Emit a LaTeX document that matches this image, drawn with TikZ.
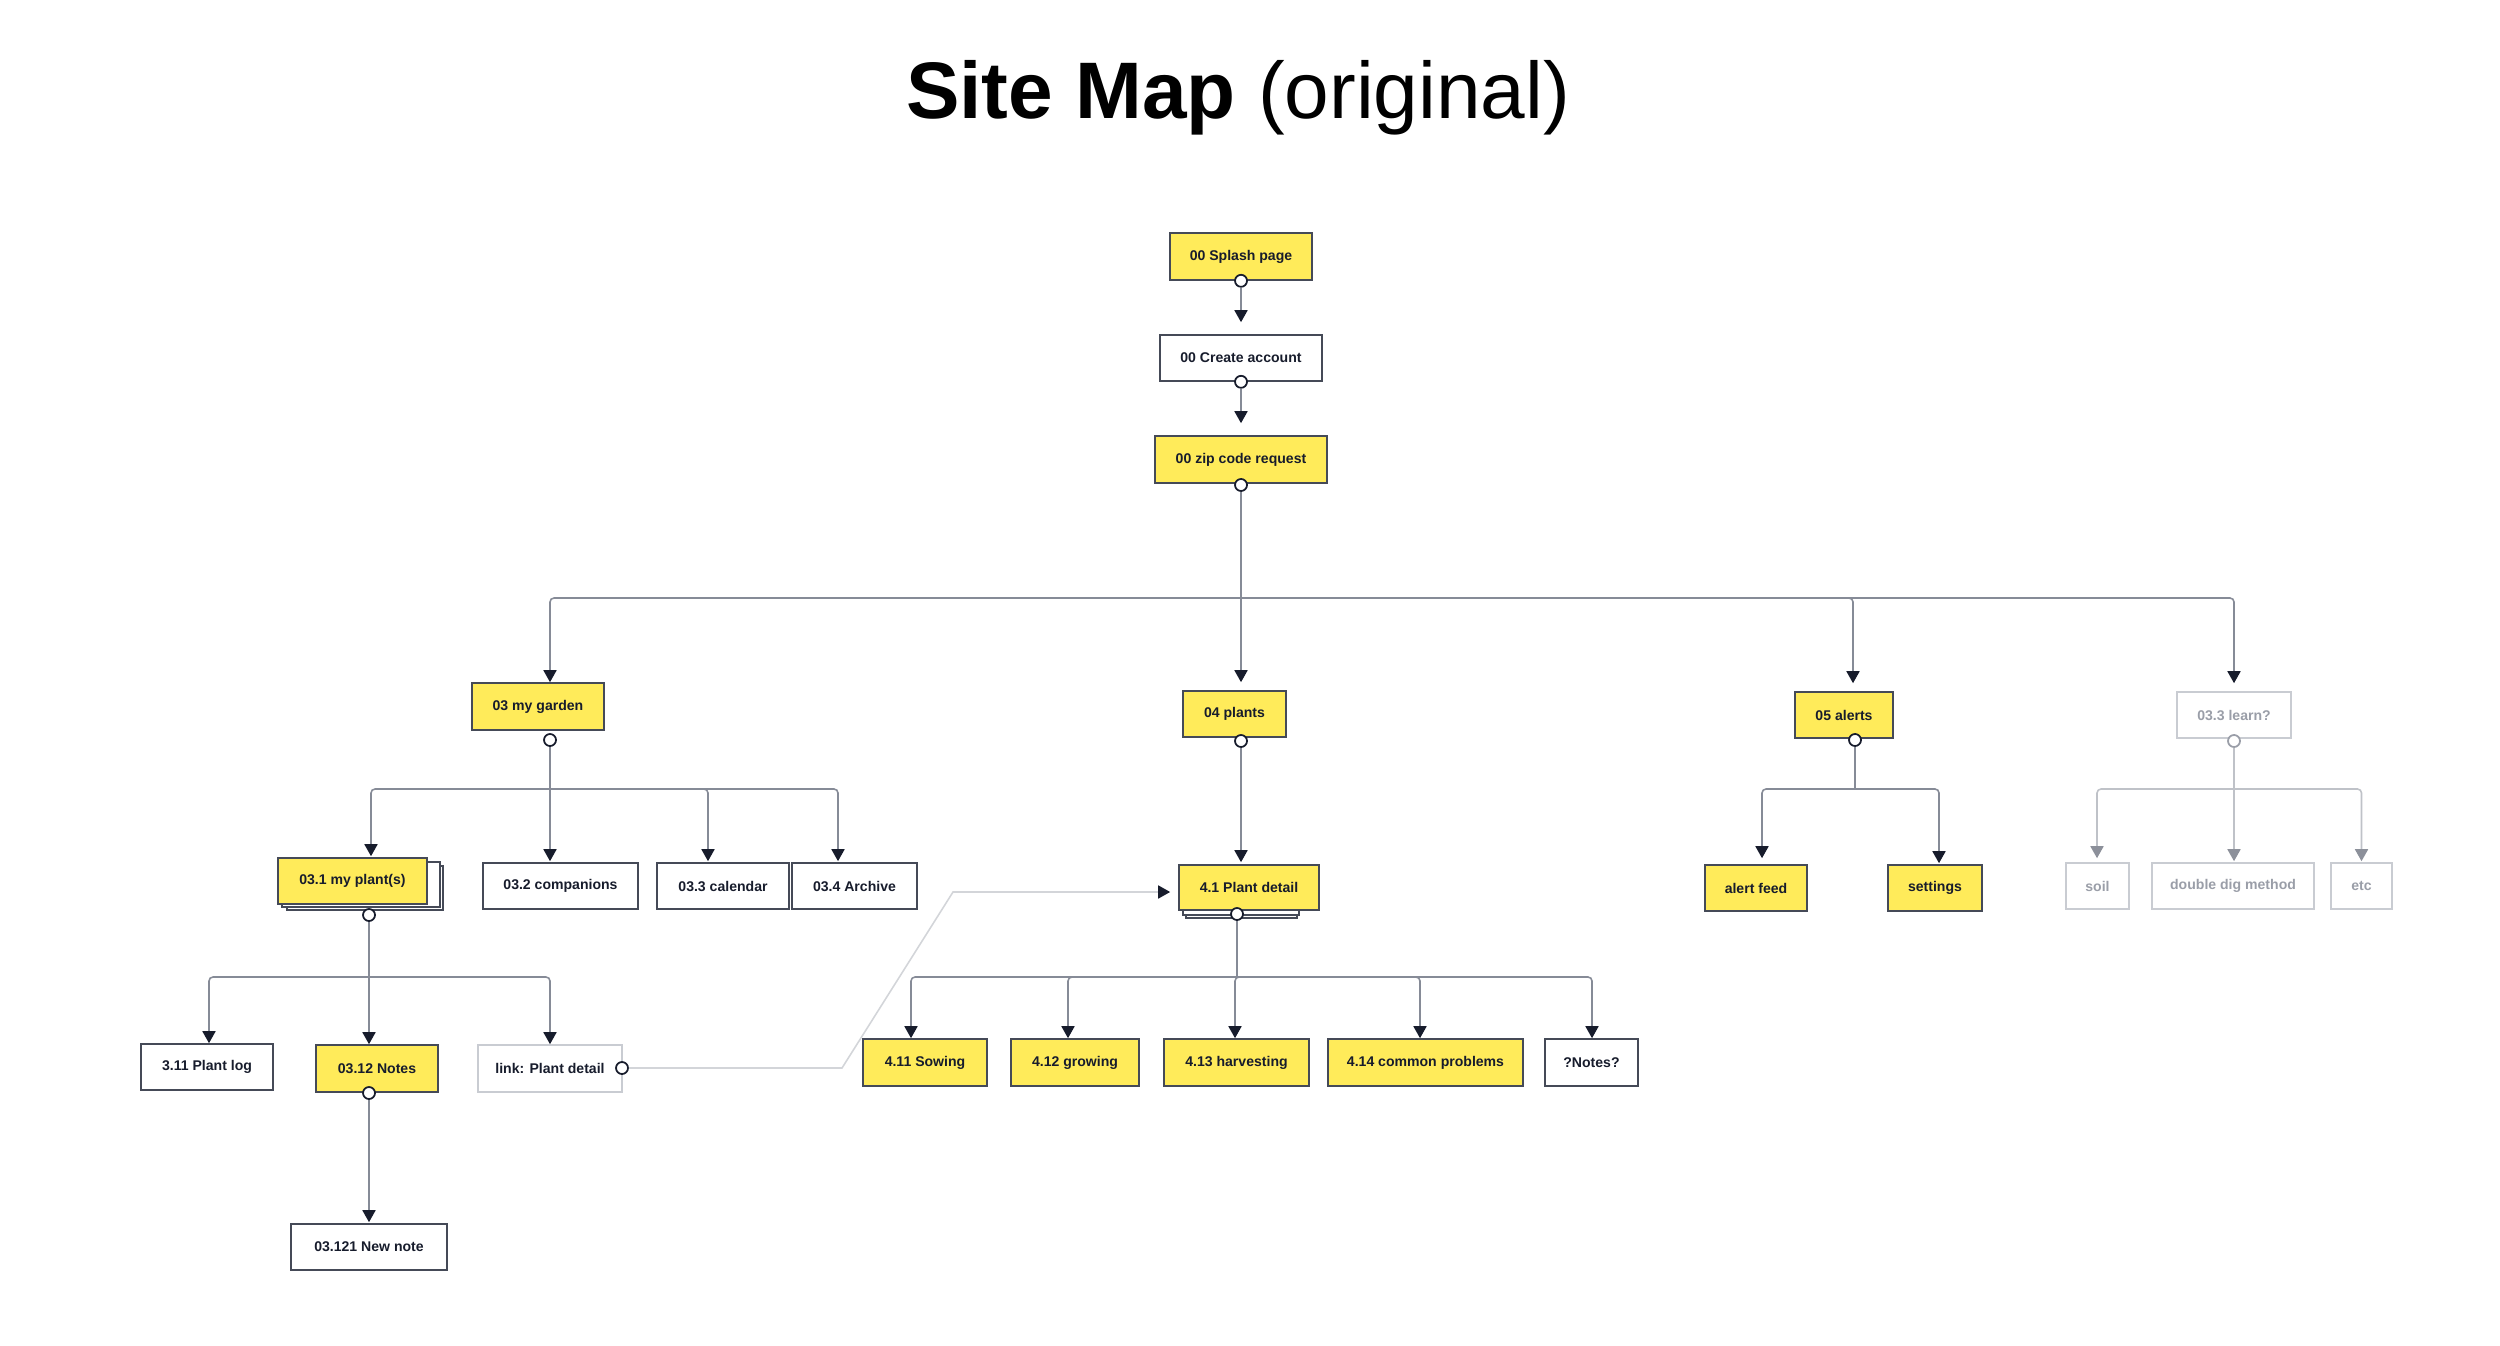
\documentclass[tikz,border=0pt]{standalone}
\usepackage{fontspec}
\setmainfont{Liberation Sans}
\usetikzlibrary{arrows.meta}

\definecolor{stickyyellow}{HTML}{FFEB5A}
\definecolor{inkdark}{HTML}{171C2C}
\definecolor{boxedge}{HTML}{454A57}
\definecolor{wiregray}{HTML}{868B97}
\definecolor{ghostedge}{HTML}{C9CCD2}
\definecolor{ghosttext}{HTML}{9A9EA8}
\definecolor{ghostline}{HTML}{BFC2C8}
\definecolor{ghosthead}{HTML}{8C909A}
\definecolor{linkline}{HTML}{D3D5D9}

\begin{document}
\begin{tikzpicture}[x=0.01cm, y=-0.01cm,
    every node/.style={font=\fontsize{4}{5}\selectfont\bfseries, text=inkdark},
    pagebox/.style={draw=boxedge, line width=0.45pt, inner sep=0pt},
    sticky/.style={pagebox, fill=stickyyellow},
    plain/.style={pagebox, fill=white},
    ghost/.style={draw=ghostedge, fill=white, text=ghosttext, line width=0.45pt, inner sep=0pt},
    stackpage/.style={draw=boxedge, fill=white, line width=0.45pt},
    port/.style={circle, draw=inkdark, fill=white, line width=0.5pt, minimum size=0.12cm, inner sep=0pt},
    ghostport/.style={port, draw=ghosttext},
    trunk/.style={draw=wiregray, line width=0.45pt},
    wire/.style={draw=wiregray, line width=0.45pt, rounded corners=0.04cm, -{Triangle[length=3.4pt, width=3.7pt, color=inkdark]}},
    ghostwire/.style={draw=ghostline, line width=0.45pt, rounded corners=0.04cm, -{Triangle[length=3.4pt, width=3.7pt, color=ghosthead]}},
    linkwire/.style={draw=linkline, line width=0.45pt, -{Triangle[length=3.4pt, width=3.7pt, color=inkdark]}}]
  \useasboundingbox (0,0) rectangle (2500,1346);

  % title
  \node[font=\fontsize{22.8}{27}\selectfont, text=black, anchor=base] (title) at (1238,119) {\textbf{Site Map} (original)};

  % entry chain
  \node[sticky, minimum width=1.42cm, minimum height=0.47cm] (splash) at (1241,256.5) {00 Splash page};
  \node[plain, minimum width=1.62cm, minimum height=0.46cm] (create) at (1241,358) {00 Create account};
  \node[sticky, minimum width=1.72cm, minimum height=0.47cm] (zip) at (1241,459.5) {00 zip code request};
  \node[port] (splashport) at (splash.south) {};
  \node[port] (createport) at (create.south) {};
  \node[port] (zipport) at (1241,485) {};

  % main sections
  \node[sticky, minimum width=1.32cm, minimum height=0.47cm] (garden) at (538,706.5) {03 my garden};
  \node[sticky, minimum width=1.03cm, minimum height=0.46cm] (plants) at (1234.5,714) {04 plants};
  \node[sticky, minimum width=0.98cm, minimum height=0.46cm] (alerts) at (1844,715) {05 alerts};
  \node[ghost, minimum width=1.14cm, minimum height=0.46cm] (learn) at (2234,715) {03.3 learn?};
  \node[port] (gardenport) at (550,740) {};
  \node[port] (plantsport) at (1241,741) {};
  \node[port] (alertsport) at (1855,740) {};
  \node[ghostport] (learnport) at (2234,741) {};

  % my garden
  \draw[stackpage] (287,866) rectangle (443,910);
  \draw[stackpage] (282,862) rectangle (440,907);
  \node[sticky, minimum width=1.49cm, minimum height=0.46cm] (myplants) at (352.5,881) {03.1 my plant(s)};
  \node[plain, minimum width=1.55cm, minimum height=0.46cm] (companions) at (560.5,886) {03.2 companions};
  \node[plain, minimum width=1.32cm, minimum height=0.46cm] (calendar) at (723,886) {03.3 calendar};
  \node[plain, minimum width=1.25cm, minimum height=0.46cm] (archive) at (854.5,886) {03.4 Archive};
  \node[port] (myplantsport) at (369,915) {};

  \node[plain, minimum width=1.32cm, minimum height=0.46cm] (plantlog) at (207,1067) {3.11 Plant log};
  \node[sticky, minimum width=1.22cm, minimum height=0.47cm] (notes) at (377,1068.5) {03.12 Notes};
  \node[pagebox, draw=ghostedge, fill=white, minimum width=1.44cm, minimum height=0.47cm] (linkdetail) at (550,1068.5) {link: Plant detail};
  \node[port] (notesport) at (369,1093) {};
  \node[port] (linkport) at (622,1068) {};
  \node[plain, minimum width=1.56cm, minimum height=0.46cm] (newnote) at (369,1247) {03.121 New note};

  % plants
  \draw[stackpage] (1186,880) rectangle (1297,918);
  \draw[stackpage] (1183,880) rectangle (1299,915);
  \node[sticky, minimum width=1.40cm, minimum height=0.45cm] (detail) at (1249,887.5) {4.1 Plant detail};
  \node[port] (detailport) at (1237,914) {};
  \node[sticky, minimum width=1.24cm, minimum height=0.47cm] (sowing) at (925,1062.5) {4.11 Sowing};
  \node[sticky, minimum width=1.28cm, minimum height=0.47cm] (growing) at (1075,1062.5) {4.12 growing};
  \node[sticky, minimum width=1.45cm, minimum height=0.47cm] (harvesting) at (1236.5,1062.5) {4.13 harvesting};
  \node[sticky, minimum width=1.95cm, minimum height=0.47cm] (problems) at (1425.5,1062.5) {4.14 common problems};
  \node[plain, minimum width=0.93cm, minimum height=0.47cm] (notesq) at (1591.5,1062.5) {?Notes?};

  % alerts
  \node[sticky, minimum width=1.02cm, minimum height=0.46cm] (alertfeed) at (1756,888) {alert feed};
  \node[sticky, minimum width=0.94cm, minimum height=0.46cm] (settings) at (1935,888) {settings};

  % learn
  \node[ghost, minimum width=0.63cm, minimum height=0.46cm] (soil) at (2097.5,886) {soil};
  \node[ghost, minimum width=1.62cm, minimum height=0.46cm] (doubledig) at (2233,886) {double dig method};
  \node[ghost, minimum width=0.61cm, minimum height=0.46cm] (etc) at (2361.5,886) {etc};

  % bus points
  \coordinate (topbus) at (1241,598);
  \coordinate (gardenbus) at (550,789);
  \coordinate (alertsbus) at (1855,789);
  \coordinate (learnbus) at (2234,789);
  \coordinate (myplantsbus) at (369,977);
  \coordinate (detailbus) at (1237,977);
  \coordinate (linkbend) at (842,1068);
  \coordinate (linkrise) at (953,892);

  % connectors
  \draw[wire] (splashport) -- ([shift={(0,-12)}]create.north);
  \draw[wire] (createport) -- ([shift={(0,-12)}]zip.north);

  \draw[trunk] (zipport) -- (topbus);
  \draw[wire] (topbus) -| ([shift={(12,0)}]garden.north);
  \draw[wire] (topbus) -- ([shift={(6.5,-8)}]plants.north);
  \draw[wire] (topbus) -| ([shift={(9,-8)}]alerts.north);
  \draw[wire] (topbus) -| ([shift={(0,-8)}]learn.north);

  \draw[trunk] (gardenport) -- (gardenbus);
  \draw[wire] (gardenbus) -| ([shift={(18.5,-1)}]myplants.north);
  \draw[wire] (gardenbus) -- ([shift={(-10.5,-1)}]companions.north);
  \draw[wire] (gardenbus) -| ([shift={(-15,-1)}]calendar.north);
  \draw[wire] (gardenbus) -| ([shift={(-16.5,-1)}]archive.north);

  \draw[trunk] (myplantsport) -- (myplantsbus);
  \draw[wire] (myplantsbus) -| ([shift={(2,0)}]plantlog.north);
  \draw[wire] (myplantsbus) -- ([shift={(-8,0)}]notes.north);
  \draw[wire] (myplantsbus) -| (linkdetail.north);
  \draw[wire] (notesport) -- ([shift={(0,-1)}]newnote.north);

  \draw[linkwire] (linkport) -- (linkbend) -- (linkrise) -- ([shift={(-8,4.5)}]detail.west);

  \draw[wire] (plantsport) -- ([shift={(-8,-2)}]detail.north);
  \draw[trunk] (detailport) -- (detailbus);
  \draw[wire] (detailbus) -| ([shift={(-14,0)}]sowing.north);
  \draw[wire] (detailbus) -| ([shift={(-7,0)}]growing.north);
  \draw[wire] (detailbus) -| ([shift={(-1.5,0)}]harvesting.north);
  \draw[wire] (detailbus) -| ([shift={(-5.5,0)}]problems.north);
  \draw[wire] (detailbus) -| ([shift={(0.5,0)}]notesq.north);

  \draw[trunk] (alertsport) -- (alertsbus);
  \draw[wire] (alertsbus) -| ([shift={(6,-6)}]alertfeed.north);
  \draw[wire] (alertsbus) -| ([shift={(4,-1)}]settings.north);

  \draw[trunk, draw=ghostline] (learnport) -- (learnbus);
  \draw[ghostwire] (learnbus) -| ([shift={(-0.5,-4)}]soil.north);
  \draw[ghostwire] (learnbus) -- ([shift={(1,-1)}]doubledig.north);
  \draw[ghostwire] (learnbus) -| ([shift={(0,-1)}]etc.north);
\end{tikzpicture}
\end{document}
